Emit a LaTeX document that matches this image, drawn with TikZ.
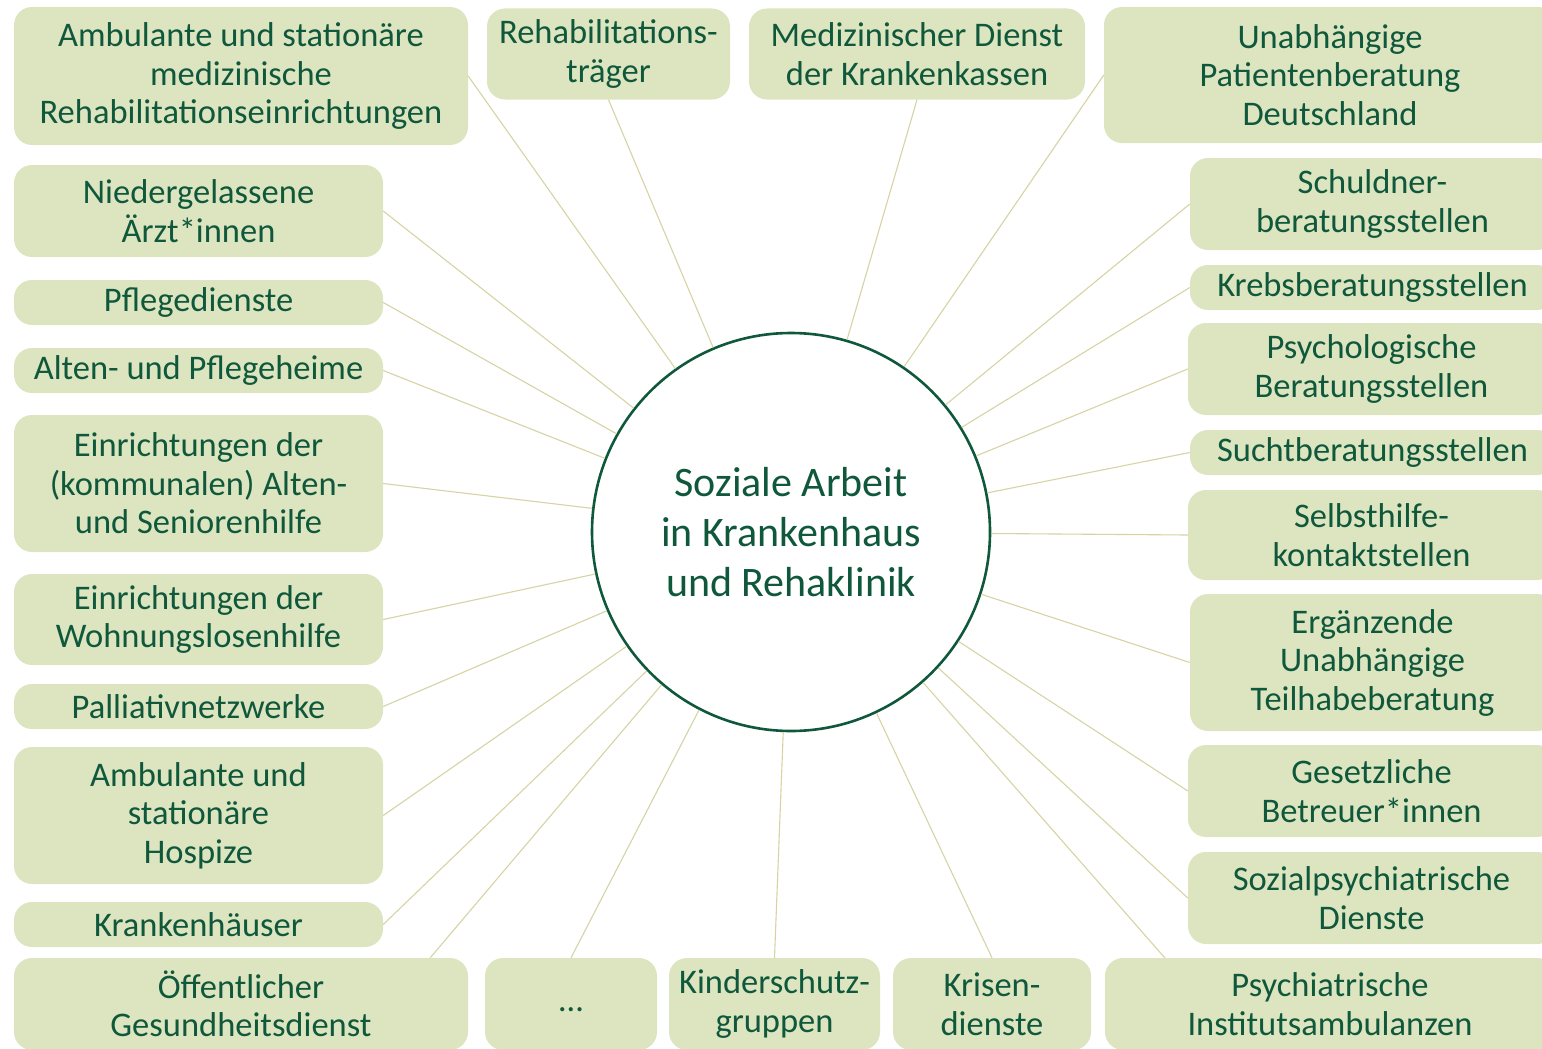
\documentclass[tikz,border=0pt]{standalone}
\usepackage{fontspec}
\setmainfont{Carlito}
\usetikzlibrary{calc}

\definecolor{boxgreen}{RGB}{220,229,191}
\definecolor{textgreen}{RGB}{16,88,60}
\definecolor{linegreen}{RGB}{214,211,164}

\begin{document}
\begin{tikzpicture}[x=1pt,y=-1pt,
    box/.style={rectangle,rounded corners=18pt,fill=boxgreen,text=textgreen,align=center,
      inner sep=0pt,font=\fontsize{34.5}{38.5}\selectfont},
    hub node/.style={circle,draw=textgreen,line width=2.6pt,fill=white,text=textgreen,
      minimum size=398pt,align=center,font=\fontsize{42}{50}\selectfont},
    link/.style={draw=linegreen,line width=1.1pt}]

  \useasboundingbox (0,0) rectangle (1542,1049);
  \clip (0,0) rectangle (1542,1049);

  \node[hub node] (hub) at (791,532) {Soziale Arbeit\\in Krankenhaus\\und Rehaklinik};

  % top row
  \node[box,minimum width=454,minimum height=138] (reha)    at (241,76)     {Ambulante und stationäre\\medizinische\\Rehabilitationseinrichtungen};
  \node[box,minimum width=243,minimum height=91]  (traeger) at (608.5,54)   {Rehabilitations-\\träger};
  \node[box,minimum width=336,minimum height=91]  (mdk)     at (917,54)     {Medizinischer Dienst\\der Krankenkassen};
  \node[box,minimum width=452,minimum height=136] (upd)     at (1330,75)    {Unabhängige\\Patientenberatung\\Deutschland};

  % left column
  \node[box,minimum width=369,minimum height=92]  (aerzte)   at (198.5,211)   {Niedergelassene\\Ärzt*innen};
  \node[box,minimum width=369,minimum height=45]  (pflege)   at (198.5,302.5) {Pflegedienste};
  \node[box,minimum width=369,minimum height=45]  (heime)    at (198.5,370.5) {Alten- und Pflegeheime};
  \node[box,minimum width=369,minimum height=137] (senioren) at (198.5,483.5) {Einrichtungen der\\(kommunalen) Alten-\\und Seniorenhilfe};
  \node[box,minimum width=369,minimum height=91]  (wohnung)  at (198.5,619.5) {Einrichtungen der\\Wohnungslosenhilfe};
  \node[box,minimum width=369,minimum height=45]  (palliativ) at (198.5,706.5) {Palliativnetzwerke};
  \node[box,minimum width=369,minimum height=137] (hospiz)   at (198.5,815.5) {Ambulante und\\stationäre\\Hospize};
  \node[box,minimum width=369,minimum height=45]  (kh)       at (198.5,924.5) {Krankenhäuser};

  % bottom row
  \node[box,minimum width=454,minimum height=92] (oegd)   at (241,1004)    {Öffentlicher\\Gesundheitsdienst};
  \node[box,minimum width=172,minimum height=92] (etc)    at (571,1004)    {\strut…};
  \node[box,minimum width=211,minimum height=92] (kinder) at (774.5,1004)  {Kinderschutz-\\gruppen};
  \node[box,minimum width=198,minimum height=92] (krisen) at (992,1004)    {Krisen-\\dienste};
  \node[box,minimum width=450,minimum height=92] (pia)    at (1330,1004)   {Psychiatrische\\Institutsambulanzen};

  % right column
  \node[box,minimum width=365,minimum height=92]  (schulden)  at (1372.5,204)   {Schuldner-\\beratungsstellen};
  \node[box,minimum width=365,minimum height=45]  (krebs)     at (1372.5,287.5) {Krebsberatungsstellen};
  \node[box,minimum width=367,minimum height=92]  (psycho)    at (1371.5,369)   {Psychologische\\Beratungsstellen};
  \node[box,minimum width=365,minimum height=45]  (sucht)     at (1372.5,452.5) {Suchtberatungsstellen};
  \node[box,minimum width=367,minimum height=90]  (selbst)    at (1371.5,535)   {Selbsthilfe-\\kontaktstellen};
  \node[box,minimum width=365,minimum height=137] (eutb)      at (1372.5,662.5) {Ergänzende\\Unabhängige\\Teilhabeberatung};
  \node[box,minimum width=367,minimum height=92]  (betreuer)  at (1371.5,791)   {Gesetzliche\\Betreuer*innen};
  \node[box,minimum width=367,minimum height=92]  (spdi)      at (1371.5,898)   {Sozialpsychiatrische\\Dienste};

  \path[link] (reha.east) edge (hub)
        (traeger.south) edge (hub)
        (mdk.south) edge (hub)
        (upd.west) edge (hub)
        (aerzte.east) edge (hub)
        (pflege.east) edge (hub)
        (heime.east) edge (hub)
        (senioren.east) edge (hub)
        (wohnung.east) edge (hub)
        (palliativ.east) edge (hub)
        (hospiz.east) edge (hub)
        (kh.east) edge (hub)
        ($(oegd.north east)+(-38,0)$) edge (hub)
        (etc.north) edge (hub)
        (kinder.north) edge (hub)
        (krisen.north) edge (hub)
        ($(pia.north west)+(60,0)$) edge (hub)
        (schulden.west) edge (hub)
        (krebs.west) edge (hub)
        (psycho.west) edge (hub)
        (sucht.west) edge (hub)
        (selbst.west) edge (hub)
        (eutb.west) edge (hub)
        (betreuer.west) edge (hub)
        (spdi.west) edge (hub)
        ;
\end{tikzpicture}
\end{document}
